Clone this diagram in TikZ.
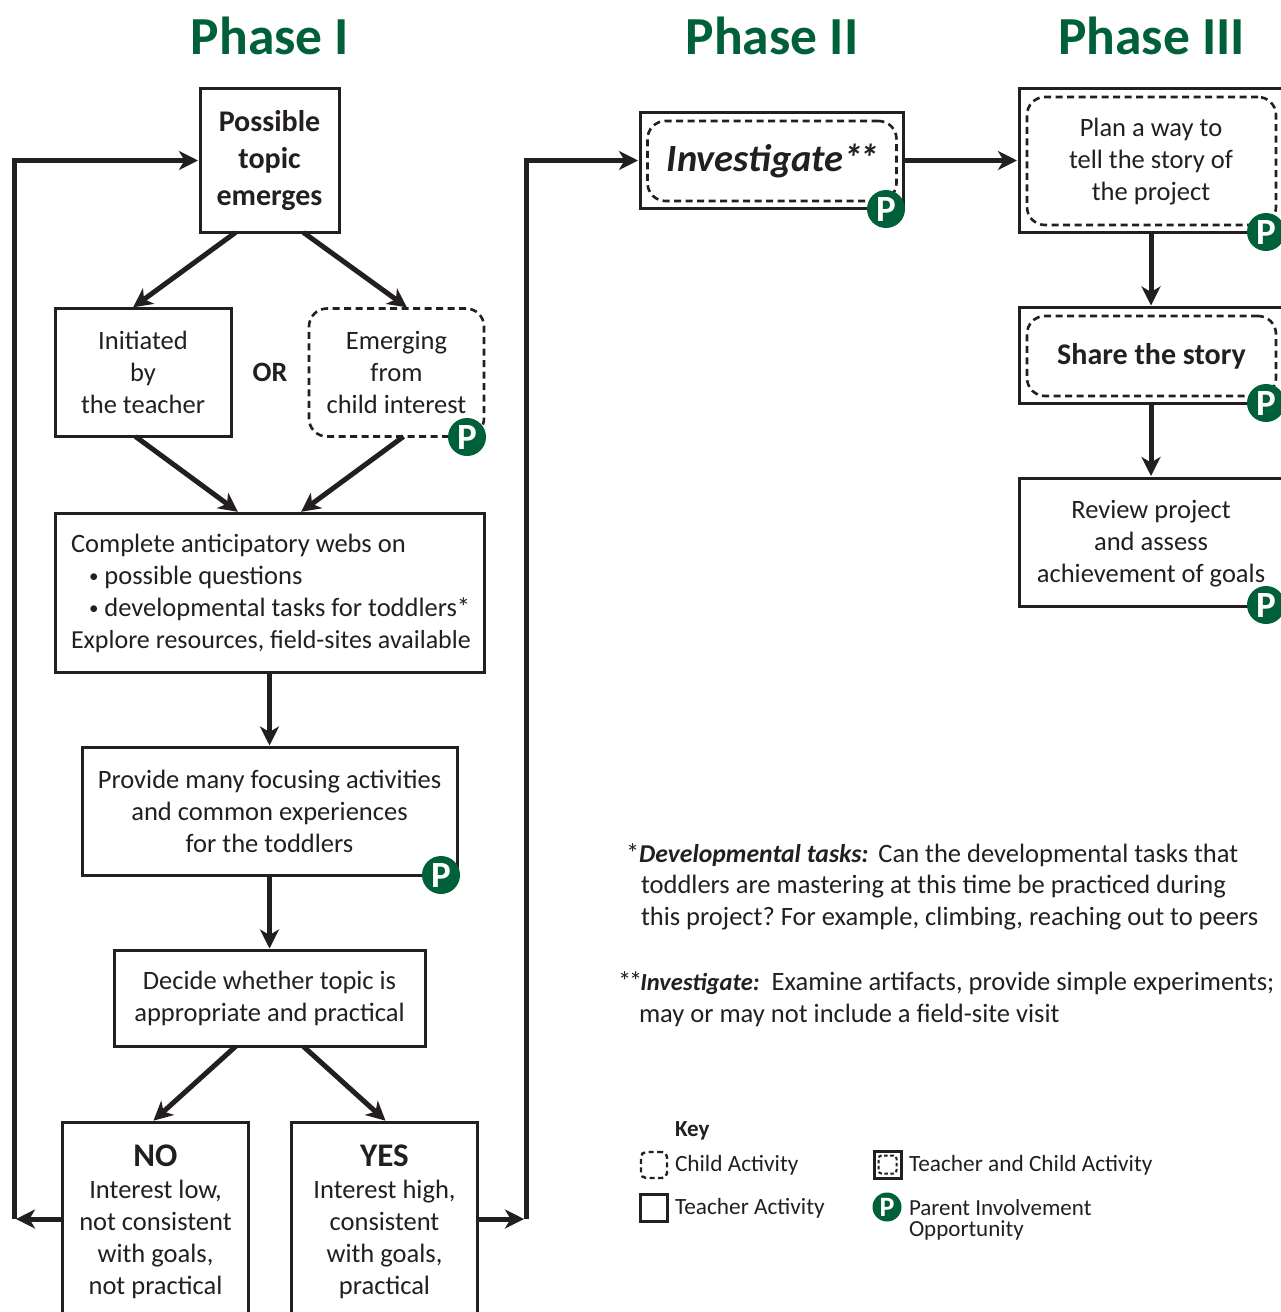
\documentclass[tikz,border=0pt]{standalone}
\usepackage{fontspec}
\setmainfont{Carlito}
\usetikzlibrary{arrows.meta,calc}
\definecolor{ink}{HTML}{231F20}
\definecolor{pgreen}{HTML}{00603A}
\newcommand{\bodyfont}{\frenchspacing\fontsize{26.5}{32}\selectfont}
\newcommand{\bigb}{\fontsize{30}{37}\selectfont\bfseries}
\newcommand{\smallbul}{\hspace*{18pt}\raisebox{2pt}{\fontsize{19}{19}\selectfont•} }
\tikzset{
  base/.style={outer sep=0pt,inner sep=0pt,text=ink,font=\bodyfont,align=center},
  tbox/.style={base,draw=ink,line width=3pt,minimum width=#1},
  dbox/.style={base,draw=ink,line width=2.6pt,dash pattern=on 7pt off 4.5pt,rounded corners=18pt,minimum width=#1},
  arr/.style={draw=ink,line width=5pt,-{Stealth[length=19pt,width=19pt,inset=5.5pt]},shorten >=2pt},
  pbadge/.style={circle,fill=pgreen,minimum size=38pt,inner sep=0pt,outer sep=0pt,text=white,font=\fontsize{37}{37}\selectfont\bfseries},
  kbadge/.style={circle,fill=pgreen,minimum size=29pt,inner sep=0pt,outer sep=0pt,text=white,font=\fontsize{28}{28}\selectfont\bfseries},
  title/.style={base,text=pgreen,font=\fontsize{53.5}{54}\selectfont\bfseries},
  note/.style={base,anchor=west,align=left},
  keytxt/.style={base,anchor=west,align=left,font=\fontsize{23.3}{23}\selectfont},
}
\begin{document}
\begin{tikzpicture}[x=1pt,y=-1pt]
\useasboundingbox (0,0) rectangle (1281,1312);
\clip (0,0) rectangle (1281,1312);
\fill[white] (0,0) rectangle (1281,1312);
% titles
\node[title] (t1) at (270,36) {Phase I};
\node[title] (t2) at (772,36) {Phase II};
\node[title] (t3) at (1151.5,36) {Phase III};
% phase I
\node[tbox=139pt,minimum height=144pt,font=\bigb] (topic) at (269.5,160.5) {Possible\\topic\\emerges};
\node[tbox=176pt,minimum height=128pt] (teacher) at (143,372.5) {Initiated\\by\\the teacher};
\node[dbox=175pt,minimum height=128pt] (emerge) at (396.5,372.5) {Emerging\\from\\child interest};
\node[base,font=\fontsize{28}{32}\selectfont\bfseries] (or) at (270,372) {OR};
\node[tbox=429pt,minimum height=159pt] (webs) at (269.5,592.5) {};
\node[base,anchor=west,align=left] (webstxt) at (71,593.5) {Complete anticipatory webs on\\\smallbul possible questions\\\smallbul developmental tasks for toddlers*\\{\fontsize{26}{32}\selectfont Explore resources, field-sites available}};
\node[tbox=375pt,minimum height=128pt] (focus) at (269.5,811.5) {Provide many focusing activities\\and common experiences\\for the toddlers};
\node[tbox=311pt,minimum height=96pt] (decide) at (269.5,998.5) {Decide whether topic is\\appropriate and practical};
\node[tbox=186pt,minimum height=208pt,anchor=north] (no) at (155,1122) {};
\node[tbox=186pt,minimum height=208pt,anchor=north] (yes) at (384,1122) {};
\node[base,anchor=north] (notxt) at (155.5,1144.5) {{\fontsize{33}{33}\selectfont\bfseries NO}\\Interest low,\\not consistent\\with goals,\\not practical};
\node[base,anchor=north] (yestxt) at (384.5,1144.5) {{\fontsize{33}{33}\selectfont\bfseries YES}\\Interest high,\\consistent\\with goals,\\practical};
% phase II / III
\node[tbox=263pt,minimum height=96pt] (inv) at (771.5,160.5) {};
\node[dbox=249pt,minimum height=80pt,font=\fontsize{38.5}{40}\selectfont\bfseries\itshape] (invd) at (772,161) {\raisebox{-1pt}{\kern2pt Investigate*\kern-3pt*}};
\node[tbox=264pt,minimum height=144pt] (plan) at (1151,160.5) {};
\node[dbox=249pt,minimum height=128pt] (pland) at (1151.5,161) {};
\node[base] (plantxt) at (1151,162) {Plan a way to\\tell the story of\\the project};
\node[tbox=264pt,minimum height=96pt] (share) at (1151,355.5) {};
\node[dbox=249pt,minimum height=80pt,font=\bigb] (shared) at (1151.5,356) {Share the story};
\node[tbox=264pt,minimum height=128pt] (review) at (1151,542) {};
\node[base] (reviewtxt) at (1151,544) {Review project\\and assess\\achievement of goals};
% badges
\node[pbadge] (p1) at (467,437) {P};
\node[pbadge] (p2) at (441,875) {P};
\node[pbadge] (p3) at (886,209) {P};
\node[pbadge] (p4) at (1266,232) {P};
\node[pbadge] (p5) at (1266,403) {P};
\node[pbadge] (p6) at (1266,605) {P};
% connectors
\coordinate (retL) at (14,1219);
\coordinate (retR) at (526,1219);
\draw[arr] ([xshift=-34pt]topic.south) -- ([xshift=-11.5pt]teacher.north);
\draw[arr] ([xshift=34pt]topic.south) -- ([xshift=12pt]emerge.north);
\draw[arr] ([xshift=-7.5pt]teacher.south) -- ([xshift=-30pt]webs.north);
\draw[arr] ([xshift=7pt]emerge.south) -- ([xshift=30pt]webs.north);
\draw[arr] (webs.south) -- (webs.south |- focus.north);
\draw[arr] (focus.south) -- (focus.south |- decide.north);
\draw[arr] ([xshift=-34pt]decide.south) -- ([xshift=-3pt]no.north);
\draw[arr] ([xshift=34pt]decide.south) -- ([xshift=3pt]yes.north);
\draw[arr] (inv.east) -- (plan.west |- inv.east);
\draw[arr] (plan.south) -- (share.north);
\draw[arr] (share.south) -- (review.north);
\draw[arr] (no.west |- retL) -- (retL);
\draw[arr] (yes.east |- retR) -- (retR);
\draw[arr] (retL) -- (retL |- topic.west) -- (topic.west);
\draw[arr] (retR) -- (retR |- inv.west) -- (inv.west);
% notes
\node[note] (n1) at (626,855) {*\textbf{\textit{\fontsize{25.7}{32}\selectfont Developmental tasks:}}\kern10pt Can the developmental tasks that};
\node[note] (n2) at (641,887) {toddlers are mastering at this time be practiced during};
\node[note] (n3) at (641,919) {this project? For example, climbing, reaching out to peers};
\node[note] (n4) at (618,983) {*\kern-2pt*\kern-2pt\textbf{\textit{\fontsize{24.5}{32}\selectfont Investigate:}}\kern12pt Examine artifacts, provide simple experiments;};
\node[note] (n5) at (639,1015) {may or may not include a field-site visit};
% key
\node[keytxt,font=\fontsize{23}{23}\selectfont\bfseries] (keyh) at (675,1131) {Key};
\node[dbox=26pt,minimum height=26pt,line width=2.4pt,rounded corners=5pt,dash pattern=on 5pt off 3.5pt] (kd) at (654,1165) {};
\node[keytxt] (kdt) at (675,1165) {Child Activity};
\node[tbox=27pt,minimum height=27pt] (kt) at (654,1207.5) {};
\node[keytxt] (ktt) at (675,1208) {Teacher Activity};
\node[tbox=27pt,minimum height=27pt] (ktc) at (887.5,1164.5) {};
\node[dbox=18pt,minimum height=18pt,line width=2pt,rounded corners=3pt,dash pattern=on 3.5pt off 2.5pt] (ktcd) at (887.5,1164.5) {};
\node[keytxt] (ktct) at (909,1165) {Teacher and Child Activity};
\node[kbadge] (kp) at (887,1207) {P};
\node[keytxt,font=\fontsize{23}{23}\selectfont] (kpt) at (909,1208) {Parent Involvement};
\node[keytxt,font=\fontsize{23}{23}\selectfont] (kpt2) at (909,1230) {Opportunity};
\end{tikzpicture}
\end{document}
